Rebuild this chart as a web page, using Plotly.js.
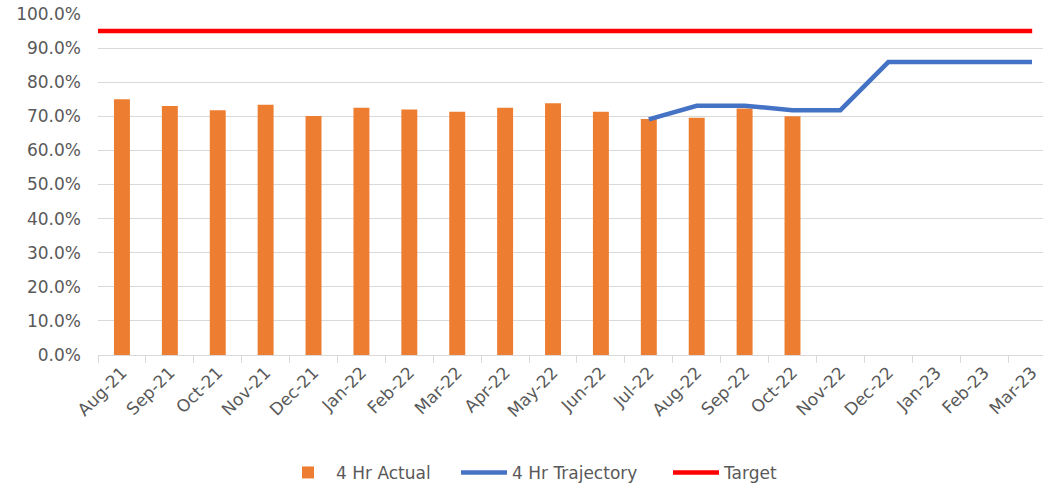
<!DOCTYPE html>
<html>
<head>
<meta charset="utf-8">
<script src="https://cdn.plot.ly/plotly-3.0.1.min.js"></script>
<style>html,body{margin:0;padding:0;overflow:hidden;background:#fff}</style>
</head>
<body>
<div id="chart" style="width:1043px;height:486px"></div>
<script>
const months = ["Aug-21","Sep-21","Oct-21","Nov-21","Dec-21","Jan-22","Feb-22","Mar-22","Apr-22","May-22","Jun-22","Jul-22","Aug-22","Sep-22","Oct-22","Nov-22","Dec-22","Jan-23","Feb-23","Mar-23"];
const actual = [0.750,0.730,0.718,0.734,0.701,0.725,0.720,0.713,0.725,0.738,0.713,0.692,0.696,0.723,0.700,null,null,null,null,null];
const trajectory = [null,null,null,null,null,null,null,null,null,null,null,0.691,0.731,0.731,0.718,0.718,0.859,0.859,0.859,0.859];
const target = [0.95,0.95,0.95,0.95,0.95,0.95,0.95,0.95,0.95,0.95,0.95,0.95,0.95,0.95,0.95,0.95,0.95,0.95,0.95,0.95];
const yTicks = [0,0.1,0.2,0.3,0.4,0.5,0.6,0.7,0.8,0.9,1.0];

const fontFam = "DejaVu Sans, sans-serif";
const grey = "#595959";

const traces = [
  {type:"bar", name:"4 Hr Actual", x:months, y:actual, marker:{color:"#ED7D31"}, legend:"legend"},
  {type:"scatter", mode:"lines", name:"4 Hr Trajectory", x:months, y:trajectory, line:{color:"#4472C4", width:4.5}, connectgaps:false, legend:"legend2"},
  {type:"scatter", mode:"lines", name:"Target", x:months, y:target, xaxis:"x2", line:{color:"#FF0000", width:4.5}, legend:"legend3"}
];

function leg(px){
  return {orientation:"h", xref:"container", x:px/1043, xanchor:"left", yref:"container", y:0.027, yanchor:"middle",
          font:{size:17, color:grey, family:fontFam}, itemwidth:46, bgcolor:"rgba(0,0,0,0)"};
}

const layout = {
  width:1043, height:486,
  margin:{l:98, r:0, t:14, b:131},
  paper_bgcolor:"#fff", plot_bgcolor:"#fff",
  bargap:0.667,
  showlegend:true,
  font:{family:fontFam, color:grey, size:17},
  xaxis:{
    type:"category", range:[-0.5, 19.23], tickson:"boundaries", automargin:false,
    ticks:"outside", ticklen:7, tickcolor:"#D9D9D9",
    showline:true, linecolor:"#D9D9D9", linewidth:1,
    showgrid:false, tickangle:-45, tickfont:{size:17, color:grey, family:fontFam},
    fixedrange:true
  },
  xaxis2:{
    type:"category", overlaying:"x", range:[0, 19.22], visible:false, showgrid:false
  },
  yaxis:{
    range:[0,1], tickvals:yTicks, tickformat:".1%", automargin:false,
    showgrid:true, gridcolor:"#D9D9D9", gridwidth:1, zeroline:false,
    tickfont:{size:17, color:grey, family:fontFam}, ticklabelstandoff:16,
    showline:false
  },
  legend:leg(280),
  legend2:leg(456),
  legend3:leg(668)
};

Plotly.newPlot("chart", traces, layout, {displayModeBar:false, staticPlot:true});
</script>
</body>
</html>
